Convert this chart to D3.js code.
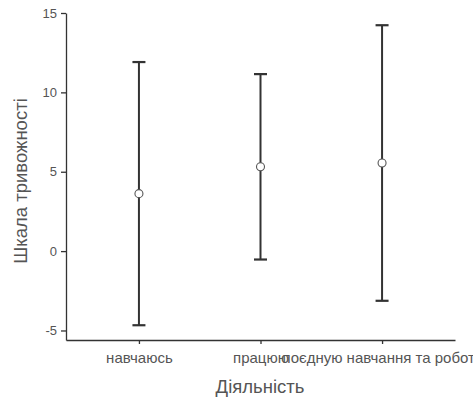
<!DOCTYPE html>
<html>
<head>
<meta charset="utf-8">
<script src="https://cdn.jsdelivr.net/npm/d3@7"></script>
<style>
  html, body { margin: 0; padding: 0; background: #fff; }
  svg { display: block; }
</style>
</head>
<body>
<svg id="chart" width="473" height="403"></svg>
<script>
// Anxiety scale by activity: mean with lower / upper interval bounds
const categories = ["навчаюсь", "працюю", "поєдную навчання та роботу"];
const means = [3.62, 5.31, 5.55];
const lower = [-4.67, -0.53, -3.13];
const upper = [11.91, 11.15, 14.23];
const yTicks = [-5, 0, 5, 10, 15];

const width = 473, height = 403;
const margin = { left: 66, right: 18, top: 13, bottom: 63 };
const svg = d3.select("#chart");

const x = d3.scalePoint()
  .domain(categories)
  .range([margin.left, width - margin.right])
  .padding(0.6);

const y = d3.scaleLinear()
  .domain([-5.6, 15])
  .range([height - margin.bottom, margin.top]);

const axisColor = "#333";
const textColor = "#555";
const font = "'Liberation Sans', Arial, sans-serif";

// y axis
const gy = svg.append("g")
  .attr("transform", `translate(${margin.left},0)`)
  .call(d3.axisLeft(y).tickValues(yTicks).tickFormat(d => String(d))
    .tickSize(5).tickPadding(4).tickSizeOuter(0));
gy.select(".domain").attr("stroke", axisColor).attr("stroke-width", 1.3);
gy.selectAll(".tick line").attr("stroke", axisColor).attr("stroke-width", 1.3);
gy.selectAll(".tick text")
  .attr("fill", textColor)
  .style("font-family", font)
  .style("font-size", "13px");

// x axis
const gx = svg.append("g")
  .attr("transform", `translate(0,${height - margin.bottom})`)
  .call(d3.axisBottom(x).tickSize(4).tickPadding(8).tickSizeOuter(0));
gx.select(".domain").attr("stroke", axisColor).attr("stroke-width", 1.3);
gx.selectAll(".tick line").attr("stroke", axisColor).attr("stroke-width", 1.3);
gx.selectAll(".tick text")
  .attr("fill", textColor)
  .style("font-family", font)
  .style("font-size", "15px");

// axis titles
svg.append("text")
  .attr("x", 260)
  .attr("y", 393)
  .attr("text-anchor", "middle")
  .attr("fill", textColor)
  .style("font-family", font)
  .style("font-size", "18.5px")
  .text("Діяльність");

svg.append("text")
  .attr("transform", `translate(27,181) rotate(-90)`)
  .attr("text-anchor", "middle")
  .attr("fill", textColor)
  .style("font-family", font)
  .style("font-size", "18.5px")
  .text("Шкала тривожності");

// error bars
const capHalf = 6.5;
const bars = svg.append("g").selectAll("g")
  .data(categories.map((c, i) => ({ c, m: means[i], lo: lower[i], hi: upper[i] })))
  .join("g");

bars.append("line")
  .attr("x1", d => x(d.c)).attr("x2", d => x(d.c))
  .attr("y1", d => y(d.lo)).attr("y2", d => y(d.hi))
  .attr("stroke", "#333").attr("stroke-width", 2);

bars.append("line")
  .attr("x1", d => x(d.c) - capHalf).attr("x2", d => x(d.c) + capHalf)
  .attr("y1", d => y(d.hi)).attr("y2", d => y(d.hi))
  .attr("stroke", "#333").attr("stroke-width", 2.2);

bars.append("line")
  .attr("x1", d => x(d.c) - capHalf).attr("x2", d => x(d.c) + capHalf)
  .attr("y1", d => y(d.lo)).attr("y2", d => y(d.lo))
  .attr("stroke", "#333").attr("stroke-width", 2.2);

bars.append("circle")
  .attr("cx", d => x(d.c))
  .attr("cy", d => y(d.m))
  .attr("r", 4)
  .attr("fill", "#fff")
  .attr("stroke", "#555")
  .attr("stroke-width", 1.1);
</script>
</body>
</html>
